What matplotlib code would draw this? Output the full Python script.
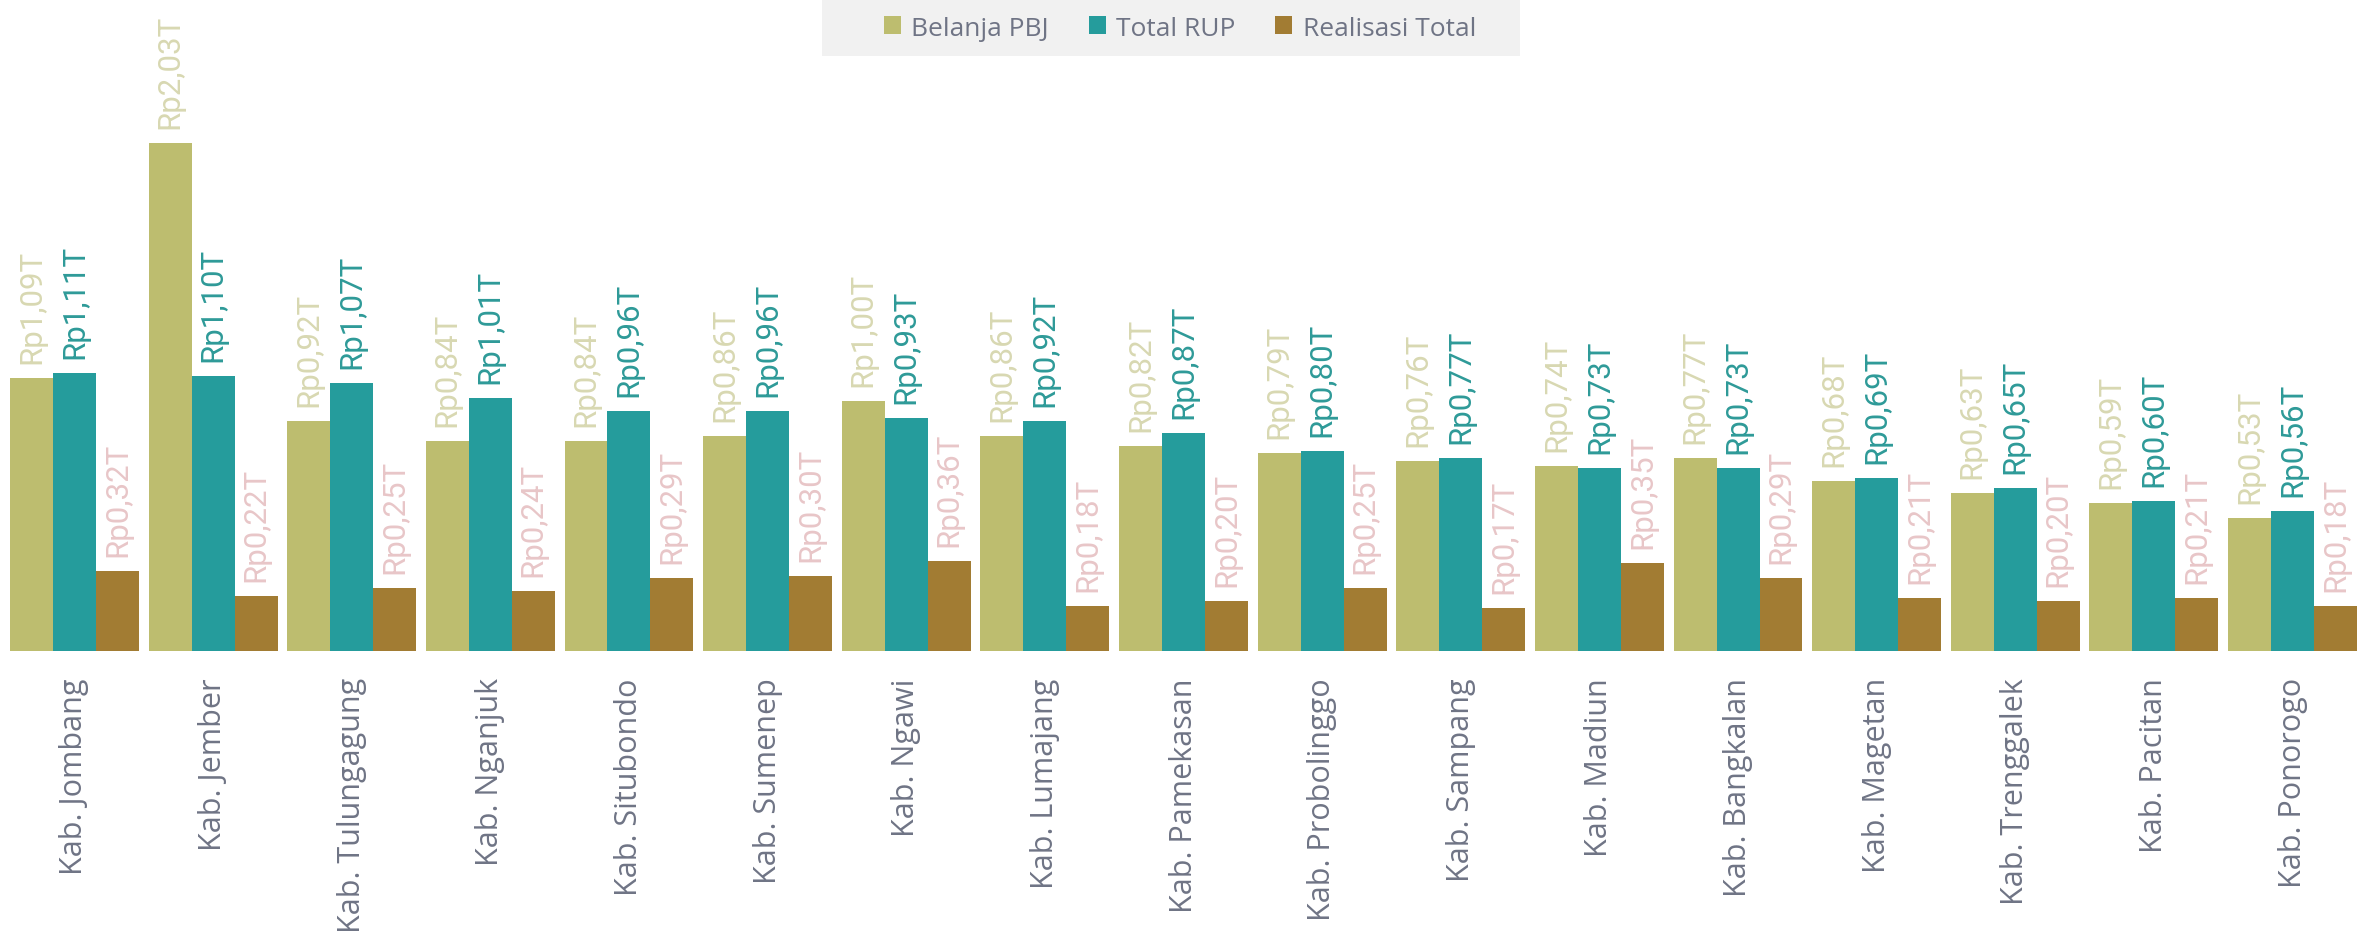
import matplotlib.pyplot as plt
import numpy as np
from matplotlib.patches import Rectangle

# Data (triliun rupiah)
kabupaten = ["Kab. Jombang", "Kab. Jember", "Kab. Tulungagung", "Kab. Nganjuk",
             "Kab. Situbondo", "Kab. Sumenep", "Kab. Ngawi", "Kab. Lumajang",
             "Kab. Pamekasan", "Kab. Probolinggo", "Kab. Sampang", "Kab. Madiun",
             "Kab. Bangkalan", "Kab. Magetan", "Kab. Trenggalek", "Kab. Pacitan",
             "Kab. Ponorogo"]
belanja_pbj = [1.09, 2.03, 0.92, 0.84, 0.84, 0.86, 1.00, 0.86, 0.82, 0.79,
               0.76, 0.74, 0.77, 0.68, 0.63, 0.59, 0.53]
total_rup = [1.11, 1.10, 1.07, 1.01, 0.96, 0.96, 0.93, 0.92, 0.87, 0.80,
             0.77, 0.73, 0.73, 0.69, 0.65, 0.60, 0.56]
realisasi = [0.32, 0.22, 0.25, 0.24, 0.29, 0.30, 0.36, 0.18, 0.20, 0.25,
             0.17, 0.35, 0.29, 0.21, 0.20, 0.21, 0.18]

series = [
    ("Belanja PBJ", belanja_pbj, "#BDBD6F", "#D8D8B2"),
    ("Total RUP", total_rup, "#259C9C", "#2E9A98"),
    ("Realisasi Total", realisasi, "#A27C33", "#E8C6C8"),
]

fig = plt.figure(figsize=(23.72, 9.53), dpi=100)
ax = fig.add_axes([0, 0.316, 1, 0.684])

x = np.arange(len(kabupaten))
w = 0.31
for i, (name, vals, col, lcol) in enumerate(series):
    pos = x + (i - 1) * w
    bars = ax.bar(pos, vals, width=w, color=col, label=name)
    for b, v in zip(bars, vals):
        txt = "Rp" + f"{v:.2f}".replace(".", ",") + "T"
        ax.annotate(txt, (b.get_x() + b.get_width() / 2, b.get_height()),
                    xytext=(0, 11), textcoords="offset points",
                    rotation=90, ha="center", va="bottom",
                    fontsize=22.5, color=lcol, family="Roboto")

ax.set_xlim(-0.537, 16.573)
ax.set_ylim(0, 2.608)
ax.set_xticks(x)
ax.set_xticklabels(kabupaten, rotation=90, fontsize=22, color="#6F7485",
                   family="Open Sans")
ax.tick_params(axis="x", length=0, pad=19)
ax.set_yticks([])
for s in ax.spines.values():
    s.set_visible(False)

# legend background box
fig.patches.append(Rectangle((822 / 2372, 1 - 57 / 953), 698 / 2372, 57 / 953,
                             transform=fig.transFigure, facecolor="#F1F1F1",
                             edgecolor="none", zorder=0))
leg = fig.legend(loc="center", bbox_to_anchor=(1180 / 2372, 1 - 29 / 953), ncol=3,
                 frameon=False, handlelength=0.65, handleheight=0.65,
                 handletextpad=0.4, columnspacing=1.5, borderpad=0.3,
                 prop={"family": "Open Sans", "size": 19})
for t in leg.get_texts():
    t.set_color("#6F7485")

fig.savefig("out.png", dpi=100, facecolor="white")
